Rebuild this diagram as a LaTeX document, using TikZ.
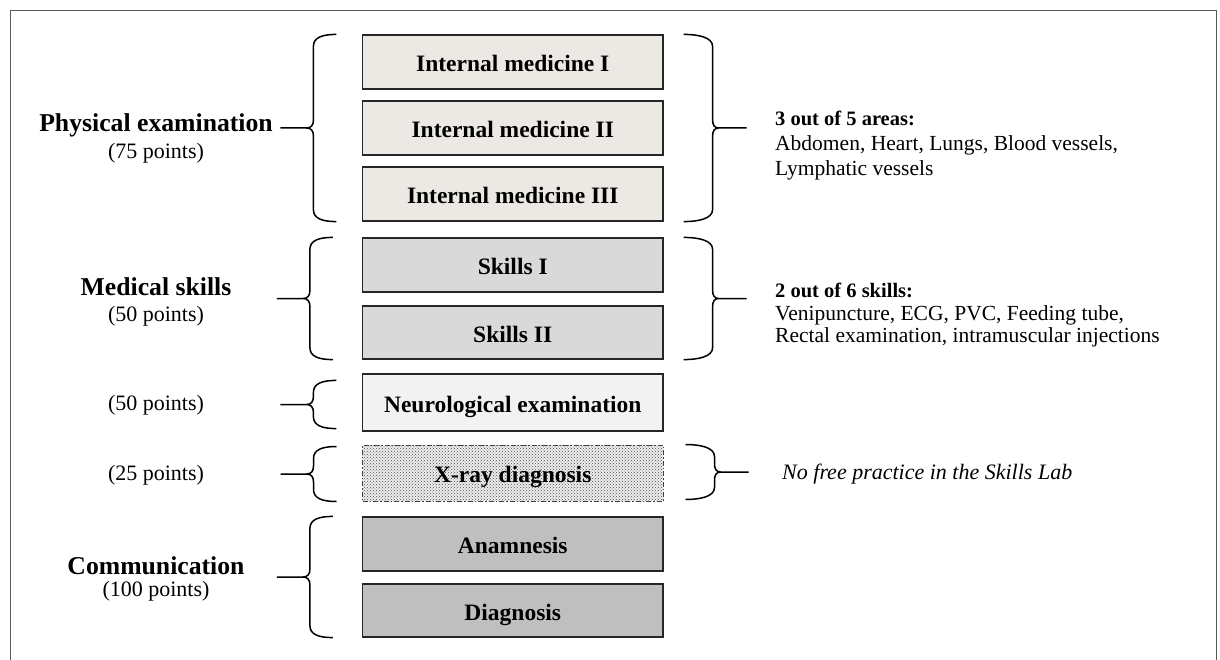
\documentclass[tikz,border=0pt]{standalone}
\usepackage{fontspec}
\setmainfont{Liberation Serif}
\usetikzlibrary{calc,patterns}

\definecolor{imfill}{RGB}{236,233,228}
\definecolor{skfill}{RGB}{217,217,217}
\definecolor{nefill}{RGB}{242,242,242}
\definecolor{cofill}{RGB}{191,191,191}
\definecolor{framegray}{RGB}{89,89,89}

% Curly brace opening to the right: #1 top end, #2 bottom end, #3 name of the free end of its stub
\newcommand{\curlyopenright}[3]{%
  \draw[bracepath] let \p1=(#1), \p2=(#2), \n1={0.5*(\y1+\y2)} in
    (\x1,\y1) .. controls (\x1-14pt,\y1) and (\x1-23pt,\y1-3pt) .. (\x1-23pt,\y1-12pt)
    -- (\x1-23pt,\n1+8pt) .. controls (\x1-23pt,\n1+3pt) and (\x1-25pt,\n1) .. (\x1-30pt,\n1)
    .. controls (\x1-25pt,\n1) and (\x1-23pt,\n1-3pt) .. (\x1-23pt,\n1-8pt)
    -- (\x1-23pt,\y2+12pt) .. controls (\x1-23pt,\y2+3pt) and (\x1-14pt,\y2) .. (\x2,\y2)
    (\x1-30pt,\n1) -- (\x1-56pt,\n1) coordinate (#3);
}
% Curly brace opening to the left
\newcommand{\curlyopenleft}[3]{%
  \draw[bracepath] let \p1=(#1), \p2=(#2), \n1={0.5*(\y1+\y2)} in
    (\x1,\y1) .. controls (\x1+15pt,\y1) and (\x1+29pt,\y1-3pt) .. (\x1+29pt,\y1-12pt)
    -- (\x1+29pt,\n1+8pt) .. controls (\x1+29pt,\n1+3pt) and (\x1+31pt,\n1) .. (\x1+35pt,\n1)
    .. controls (\x1+31pt,\n1) and (\x1+29pt,\n1-3pt) .. (\x1+29pt,\n1-8pt)
    -- (\x1+29pt,\y2+12pt) .. controls (\x1+29pt,\y2+3pt) and (\x1+15pt,\y2) .. (\x2,\y2)
    (\x1+35pt,\n1) -- (\x1+63pt,\n1) coordinate (#3);
}

\begin{document}
\begin{tikzpicture}[x=1pt,y=1pt,
  box/.style={draw=black!85, line width=1.2pt, minimum width=300.5pt, minimum height=54pt,
    inner sep=0pt, text height=21pt, text depth=2pt,
    font=\fontsize{23.5}{28}\selectfont\bfseries},
  xraybox/.style={box, draw=black!75, line width=1pt,
    dash pattern=on 5pt off 2pt on 1.5pt off 2pt,
    preaction={fill=black!7}, pattern=crosshatch dots, pattern color=black!70},
  bracepath/.style={draw=black, line width=1.5pt},
  category/.style={anchor=base, inner sep=0pt, font=\fontsize{25.7}{30}\selectfont\bfseries},
  points/.style={anchor=base, inner sep=0pt, font=\fontsize{22}{26}\selectfont},
  notehead/.style={anchor=base west, inner sep=0pt, font=\fontsize{20.5}{24}\selectfont\bfseries},
  noteline/.style={anchor=base west, inner sep=0pt, font=\fontsize{21.5}{24}\selectfont},
  noteital/.style={anchor=base west, inner sep=0pt, font=\fontsize{22}{26}\selectfont\itshape},
  frame/.style={draw=framegray, line width=1.5pt}]

\useasboundingbox (0,0) rectangle (1220,-660);
\draw[frame] (10.5,-662) -- (10.5,-10.5) -- (1216.5,-10.5) -- (1216.5,-662);

% station boxes
\node[box, fill=imfill] (im1) at (512.75,-62) {Internal medicine I};
\node[box, fill=imfill] (im2) at (512.75,-128) {Internal medicine II};
\node[box, fill=imfill] (im3) at (512.75,-194) {Internal medicine III};
\node[box, fill=skfill] (sk1) at (512.75,-265) {Skills I};
\node[box, fill=skfill, minimum height=53pt] (sk2) at (512.75,-332.5) {Skills II};
\node[box, fill=nefill, minimum height=57pt] (neu) at (512.75,-402.5) {Neurological examination};
\node[xraybox, minimum height=56pt] (xr) at (512.75,-473) {X-ray diagnosis};
\node[box, fill=cofill] (an) at (512.75,-544) {Anamnesis};
\node[box, fill=cofill, minimum height=53pt] (dg) at (512.75,-610.5) {Diagnosis};

% braces on the left
\curlyopenright{[xshift=-25.5pt]im1.north west}{[xshift=-25.5pt]im3.south west}{pe}
\curlyopenright{[xshift=-29pt]sk1.north west}{[xshift=-29pt]sk2.south west}{ms}
\curlyopenright{[xshift=-25.5pt,yshift=-7pt]neu.north west}{[xshift=-25.5pt,yshift=3pt]neu.south west}{ne}
\curlyopenright{[xshift=-25.5pt,yshift=-2pt]xr.north west}{[xshift=-25.5pt]xr.south west}{xl}
\curlyopenright{[xshift=-29pt]an.north west}{[xshift=-29pt]dg.south west}{co}

% braces on the right
\curlyopenleft{[xshift=20pt]im1.north east}{[xshift=20pt]im3.south east}{pr}
\curlyopenleft{[xshift=20pt]sk1.north east}{[xshift=20pt]sk2.south east}{sr}
\curlyopenleft{[xshift=22pt]xr.north east}{[xshift=22pt,yshift=2pt]xr.south east}{xrr}

% categories and points
\node[category] (cpe) at (156,-132) {Physical examination};
\node[points] (ppe) at (156,-159) {(75 points)};
\node[category] (cms) at (156,-295) {Medical skills};
\node[points] (pms) at (156,-321) {(50 points)};
\node[points] (pne) at (156,-410) {(50 points)};
\node[points] (pxr) at (156,-480) {(25 points)};
\node[category] (cco) at (156,-574) {Communication};
\node[points] (pco) at (156,-596) {(100 points)};

% notes on the right
\node[notehead] (n1a) at (775,-126) {3 out of 5 areas:};
\node[noteline] (n1b) at (775,-151) {Abdomen, Heart, Lungs, Blood vessels,};
\node[noteline] (n1c) at (775,-176) {Lymphatic vessels};
\node[notehead] (n2a) at (775,-298) {2 out of 6 skills:};
\node[noteline] (n2b) at (775,-320) {Venipuncture, ECG, PVC, Feeding tube,};
\node[noteline] (n2c) at (775,-342) {Rectal examination, intramuscular injections};
\node[noteital] (n3) at (782,-479) {No free practice in the Skills Lab};
\end{tikzpicture}
\end{document}
